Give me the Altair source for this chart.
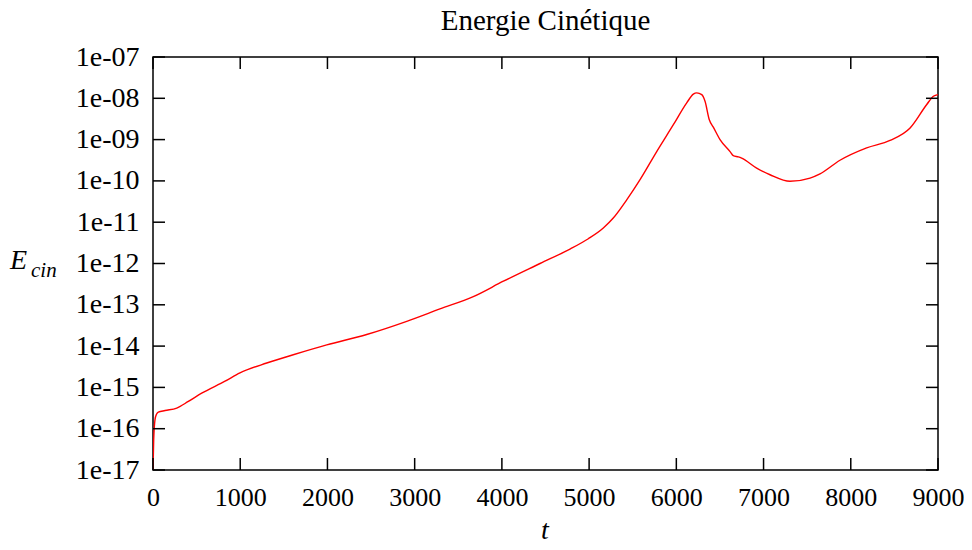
import json
import altair as alt
import pandas as pd

# ---- data ----
t_values = [0, 8, 23, 40, 61, 138, 272, 405, 558, 826, 997, 1304, 1608, 1992,
            2450, 2909, 3290, 3672, 4017, 4437, 4781, 4991, 5163, 5277, 5431,
            5584, 5775, 5966, 6119, 6195, 6234, 6291, 6329, 6378, 6424, 6501,
            6616, 6653, 6711, 6749, 6921, 7074, 7303, 7533, 7647, 7876, 8182,
            8450, 8680, 8871, 8947, 9000]
e_values = [1.0e-17, 5.37e-17, 1.66e-16, 2.24e-16, 2.51e-16, 2.75e-16, 3.16e-16,
            4.57e-16, 7.24e-16, 1.41e-15, 2.24e-15, 3.89e-15, 6.17e-15, 1.07e-14,
            1.91e-14, 3.98e-14, 7.94e-14, 1.58e-13, 3.72e-13, 1.0e-12, 2.24e-12,
            3.98e-12, 7.24e-12, 1.26e-11, 3.47e-11, 1.07e-10, 5.13e-10, 2.29e-9,
            7.76e-9, 1.26e-8, 1.35e-8, 1.23e-8, 8.51e-9, 3.02e-9, 2.0e-9, 1.0e-9,
            5.13e-10, 4.07e-10, 3.80e-10, 3.55e-10, 2.04e-10, 1.41e-10, 9.77e-11,
            1.17e-10, 1.48e-10, 3.16e-10, 6.31e-10, 9.55e-10, 1.91e-9, 7.08e-9,
            1.12e-8, 1.23e-8]
x_ticks = [0, 1000, 2000, 3000, 4000, 5000, 6000, 7000, 8000, 9000]
y_ticks = [1e-17, 1e-16, 1e-15, 1e-14, 1e-13, 1e-12, 1e-11, 1e-10, 1e-09, 1e-08, 1e-07]
y_tick_labels = ["1e-17", "1e-16", "1e-15", "1e-14", "1e-13", "1e-12",
                 "1e-11", "1e-10", "1e-09", "1e-08", "1e-07"]
title_text = "Energie Cinétique"
x_title = "t"
y_title_main = "E"
y_title_sub = "cin"

W, H = 785, 413
FONT = "Liberation Serif"

xs = alt.Scale(domain=[0, 9000], nice=False, zero=False)
ys = alt.Scale(type="log", domain=[1e-17, 1e-7], nice=False)

curve = pd.DataFrame({"t": t_values, "E": e_values})
xt = pd.DataFrame({"t": x_ticks})
yt = pd.DataFrame({"E": y_ticks})

label_expr = json.dumps(y_tick_labels) + "[round(log(datum.value)/LN10)+17]"

x_axis = alt.Axis(
    values=x_ticks, format="d", ticks=False, domain=False, grid=False,
    labelFont=FONT, labelFontSize=26, labelColor="black", labelPadding=14,
    labelFlush=False, labelOverlap=False, title=None)
y_axis = alt.Axis(
    values=y_ticks, labelExpr=label_expr, ticks=False, domain=False, grid=False,
    labelFont=FONT, labelFontSize=28, labelColor="black", labelPadding=14,
    labelOverlap=False, labelBaseline="middle", title=None)

line = alt.Chart(curve).mark_line(
    color="#ff0000", strokeWidth=1.4, clip=True, interpolate="monotone"
).encode(
    x=alt.X("t:Q", scale=xs, axis=x_axis),
    y=alt.Y("E:Q", scale=ys, axis=y_axis),
)

tick_style = dict(color="black", strokeWidth=1.5)
xtick_bottom = alt.Chart(xt).mark_rule(**tick_style).encode(
    x=alt.X("t:Q", scale=xs), y=alt.value(H), y2=alt.value(H - 12))
xtick_top = alt.Chart(xt).mark_rule(**tick_style).encode(
    x=alt.X("t:Q", scale=xs), y=alt.value(0), y2=alt.value(12))
ytick_left = alt.Chart(yt).mark_rule(**tick_style).encode(
    y=alt.Y("E:Q", scale=ys), x=alt.value(0), x2=alt.value(12))
ytick_right = alt.Chart(yt).mark_rule(**tick_style).encode(
    y=alt.Y("E:Q", scale=ys), x=alt.value(W - 12), x2=alt.value(W))

text_df = lambda s: pd.DataFrame({"s": [s]})
ytitle_e = alt.Chart(text_df(y_title_main)).mark_text(
    font=FONT, fontSize=28, fontStyle="italic", align="left",
    baseline="alphabetic", color="black"
).encode(x=alt.value(-143), y=alt.value(212), text="s:N")
ytitle_sub = alt.Chart(text_df(y_title_sub)).mark_text(
    font=FONT, fontSize=21, fontStyle="italic", align="left",
    baseline="alphabetic", color="black"
).encode(x=alt.value(-122), y=alt.value(220), text="s:N")
xtitle = alt.Chart(text_df(x_title)).mark_text(
    font=FONT, fontSize=28, fontStyle="italic", align="center",
    baseline="alphabetic", color="black"
).encode(x=alt.value(392), y=alt.value(482), text="s:N")

chart = alt.layer(
    line, xtick_bottom, xtick_top, ytick_left, ytick_right,
    ytitle_e, ytitle_sub, xtitle
).properties(
    width=W, height=H,
    title=alt.TitleParams(title_text, font=FONT, fontSize=29, fontWeight="normal",
                          color="black", anchor="middle", offset=7),
    padding={"left": 145, "top": 49, "right": 26, "bottom": 72},
    autosize=alt.AutoSizeParams(type="none"),
).configure_view(stroke="black", strokeWidth=1.5)

chart.save("out.html", embed_options={"renderer": "svg", "actions": False})
